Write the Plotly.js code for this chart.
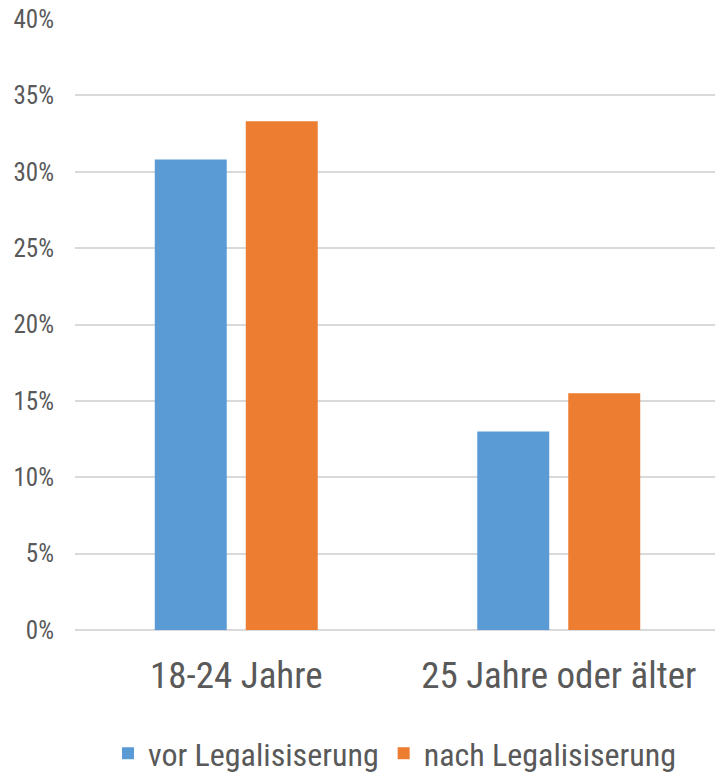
<!DOCTYPE html>
<html><head><meta charset="utf-8">
<script src="https://cdn.plot.ly/plotly-3.0.1.min.js"></script>
<style>body{margin:0;background:#fff}#c{width:715px;height:774px}</style>
</head><body><div id="c"></div>
<script>
var categories = ["18-24 Jahre", "25 Jahre oder älter"];
var seriesNames = ["vor Legalisiserung", "nach Legalisiserung"];
var vorValues = [0.308, 0.130];
var nachValues = [0.333, 0.155];
var yTickVals = [0, 0.05, 0.10, 0.15, 0.20, 0.25, 0.30, 0.35, 0.40];
var yTickText = ["0%", "5%", "10%", "15%", "20%", "25%", "30%", "35%", "40%"];

var FONT = '"Liberation Sans Narrow", "Roboto Condensed", Roboto, sans-serif';
var traces = [
  {type: 'bar', x: categories, y: vorValues, name: seriesNames[0], marker: {color: '#5B9BD5'}, hoverinfo: 'none'},
  {type: 'bar', x: categories, y: nachValues, name: seriesNames[1], marker: {color: '#ED7D31'}, hoverinfo: 'none'}
];
var layout = {
  width: 715, height: 774,
  margin: {l: 75, r: 0, t: 19, b: 144, autoexpand: false},
  paper_bgcolor: '#fff', plot_bgcolor: '#fff',
  font: {family: FONT, color: '#595959'},
  barmode: 'group', bargap: 0.4357, bargroupgap: 0.209,
  showlegend: true,
  legend: {orientation: 'h', x: 0.5, xanchor: 'center', y: -0.157, yanchor: 'top', font: {size: 32, color: '#595959'}, itemwidth: 30, tracegroupgap: 0},
  xaxis: {type: 'category', range: [-0.5, 1.4845], showgrid: false, zeroline: false, showline: false, ticks: '', tickfont: {size: 37, color: '#595959'}, ticklabelstandoff: 20},
  yaxis: {range: [0, 0.40], tickvals: yTickVals, ticktext: yTickText, showgrid: true, gridcolor: '#D9D9D9', gridwidth: 2, zeroline: true, zerolinecolor: '#D9D9D9', zerolinewidth: 2, showline: false, ticks: '', tickfont: {size: 25, color: '#595959'}, ticklabelstandoff: 20}
};
Plotly.newPlot('c', traces, layout, {displayModeBar: false, staticPlot: true});
</script></body></html>
